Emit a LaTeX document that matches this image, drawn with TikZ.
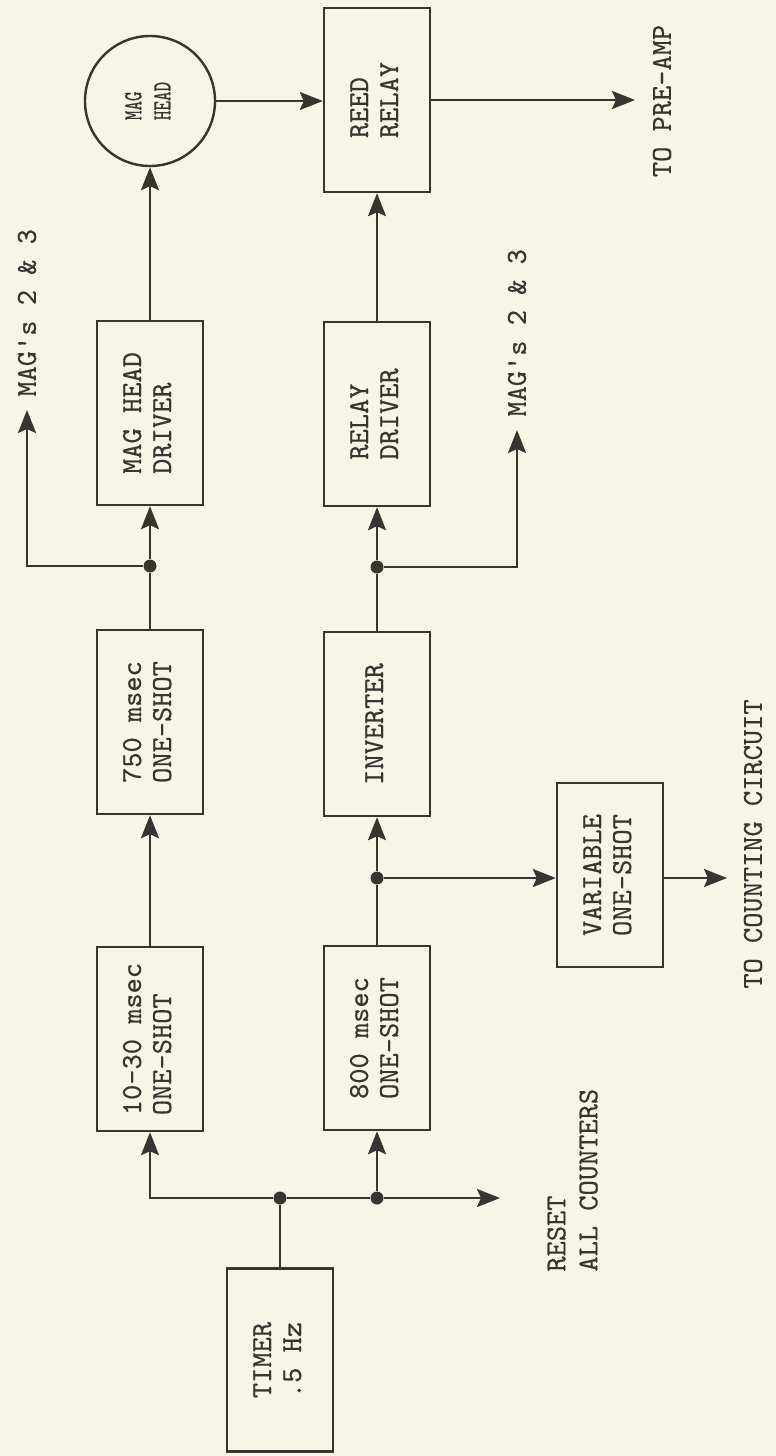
\documentclass[tikz,border=0pt]{standalone}
\usepackage{fontspec}
\usetikzlibrary{arrows.meta}
\newfontfamily\tw[FakeBold=0.5]{lmmono10-regular.otf}
\definecolor{paper}{RGB}{247,245,230}
\definecolor{ink}{RGB}{55,53,48}
\newcommand{\vtext}[1]{\rotatebox{90}{\begin{tabular}{@{}l@{}}#1\end{tabular}}}
\newcommand{\vnarrow}[1]{\rotatebox{90}{\scalebox{0.7}[1]{\begin{tabular}{@{}l@{}}#1\end{tabular}}}}
\tikzset{
  blk/.style={draw=ink, line width=1.2pt, minimum width=53pt, minimum height=92pt, inner sep=0pt,
              text=ink, font=\tw\fontsize{14.5}{15}\selectfont},
  headc/.style={draw=ink, line width=1.2pt, circle, minimum size=65pt, inner sep=0pt,
              text=ink, font=\tw\fontsize{13}{14.5}\selectfont},
  wire/.style={draw=ink, line width=1.2pt},
  arr/.style={wire, -{Stealth[length=11.5pt,width=9pt,inset=2pt]}},
  jdot/.style={circle, fill=ink, inner sep=0pt, minimum size=6.5pt},
  lbl/.style={rotate=90, inner sep=0pt, text=ink, font=\tw\fontsize{14.5}{16}\selectfont}
}
\begin{document}
\begin{tikzpicture}[x=0.5pt, y=-0.5pt]
\fill[paper] (0,0) rectangle (776,1456);
\useasboundingbox (0,0) rectangle (776,1456);

% left column
\node[blk, minimum height=91.5pt] (timer) at (280,1360) {\vtext{TIMER\\.5 Hz}};
\node[blk] (os1)   at (150,1039) {\vtext{10-30 msec\\ONE-SHOT}};
\node[blk] (os750) at (150,722)  {\vtext{750 msec\\ONE-SHOT}};
\node[blk] (mhd)   at (150,413)  {\vtext{MAG HEAD\\DRIVER}};
\node[headc] (head) at (150,101) {\vnarrow{MAG\\HEAD}};

% right column
\node[blk] (reed)  at (377,100)  {\vtext{REED\\RELAY}};
\node[blk] (rdrv)  at (377,414)  {\vtext{RELAY\\DRIVER}};
\node[blk] (inv)   at (377,724)  {\vtext{INVERTER}};
\node[blk] (os800) at (377,1038) {\vtext{800 msec\\ONE-SHOT}};
\node[blk] (var)   at (610,875)  {\vtext{VARIABLE\\ONE-SHOT}};

% junctions and free ends
\node[jdot] (j1) at (280,1198) {};
\node[jdot] (j2) at (377,1198) {};
\node[jdot] (j3) at (150,566) {};
\node[jdot] (j4) at (377,567) {};
\node[jdot] (j5) at (377,878) {};
\coordinate (rst) at (500,1198);
\coordinate (m1) at (27,410);
\coordinate (m2) at (517,430);
\coordinate (pa) at (635,100);
\coordinate (cc) at (727,878);

% connectors
\draw[wire] (timer.north) -- (j1);
\draw[arr] (j1) -- (j1 -| os1) -- (os1.south);
\draw[wire] (j1) -- (j2);
\draw[arr] (j2) -- (os800.south);
\draw[arr] (j2) -- (rst);
\draw[arr] (os1.north) -- (os750.south);
\draw[wire] (os750.north) -- (j3);
\draw[arr] (j3) -- (mhd.south);
\draw[arr] (j3) -- (j3 -| m1) -- (m1);
\draw[arr] (mhd.north) -- (head.south);
\draw[arr] (head.east) -- (head.east -| reed.west);
\draw[arr] (reed.east) -- (pa);
\draw[wire] (os800.north) -- (j5);
\draw[arr] (j5) -- (inv.south);
\draw[arr] (j5) -- (j5 -| var.west);
\draw[arr] (var.east |- cc) -- (cc);
\draw[wire] (inv.north) -- (j4);
\draw[arr] (j4) -- (rdrv.south);
\draw[arr] (j4) -- (j4 -| m2) -- (m2);
\draw[arr] (rdrv.north) -- (reed.south);

% labels
\node[lbl, anchor=west] (l1) at (27,397) {MAG\textquotesingle s 2 \& 3};
\node[lbl, anchor=west] (l2) at (517,417) {MAG\textquotesingle s 2 \& 3};
\node[lbl] (l3) at (662,101) {TO PRE-AMP};
\node[lbl] (l4) at (753,844) {TO COUNTING CIRCUIT};
\node[lbl, anchor=west] (l5) at (575,1272) {\begin{tabular}{@{}l@{}}RESET\\ALL COUNTERS\end{tabular}};
\end{tikzpicture}
\end{document}
